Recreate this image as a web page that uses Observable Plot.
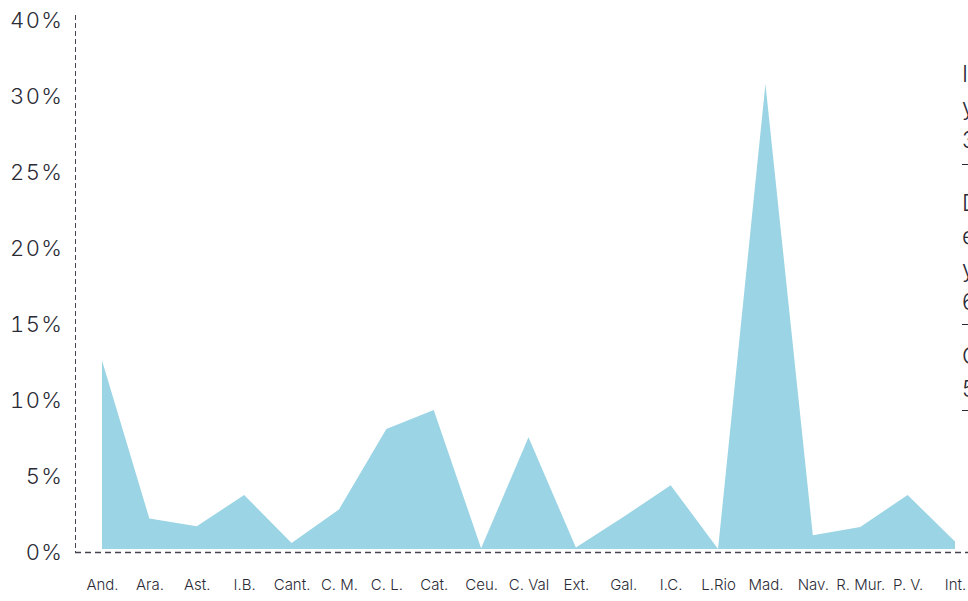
<!DOCTYPE html>
<html>
<head>
<meta charset="utf-8">
<script src="https://cdn.jsdelivr.net/npm/d3@7"></script>
<script src="https://cdn.jsdelivr.net/npm/@observablehq/plot@0.6"></script>
<style>
  html, body { margin: 0; padding: 0; background: #fff; }
  body { width: 968px; height: 601px; overflow: hidden; position: relative; font-family: Inter, "Noto Sans", sans-serif; }
  #chart { position: absolute; left: 0; top: 0; }
  #note { position: absolute; left: 962px; top: 58px; width: 260px; color: #2b2b36; font-size: 23px; line-height: 33px; font-weight: 300; }
  #note p { margin: 0; border-bottom: 1px solid #2b2b36; }
  #note p.b1 { padding-bottom: 7px; margin-bottom: 22px; }
  #note p.b2 { padding-bottom: 5px; margin-bottom: 15px; }
  #note p.b3 { padding-bottom: 4px; }
  .yaxis text { letter-spacing: 1.5px; }
</style>
</head>
<body>
<div id="chart"></div>
<div id="note">
  <p class="b1">Inversión en Madrid<br>y su comunidad:<br>30,6%</p>
  <p class="b2">Diferencia entre<br>el resto de regiones<br>y la media:<br>6,1%</p>
  <p class="b3">Cataluña y Valencia<br>5,4%</p>
</div>
<script>
const regions = ["And.", "Ara.", "Ast.", "I.B.", "Cant.", "C. M.", "C. L.", "Cat.", "Ceu.", "C. Val", "Ext.", "Gal.", "I.C.", "L.Rio", "Mad.", "Nav.", "R. Mur.", "P. V.", "Int."];
const shares = [12.4, 2.0, 1.5, 3.55, 0.4, 2.6, 7.9, 9.15, 0.05, 7.35, 0.1, 2.1, 4.2, 0.0, 30.6, 0.9, 1.45, 3.55, 0.5];
const yTickValues = [0, 5, 10, 15, 20, 25, 30, 35];
const yTickLabels = ["0%", "5%", "10%", "15%", "20%", "25%", "30%", "40%"];

const data = regions.map((r, i) => ({region: r, share: shares[i]}));

const chart = Plot.plot({
  width: 968,
  height: 601,
  marginLeft: 75,
  marginRight: 13,
  marginTop: 20,
  marginBottom: 49,
  style: {fontFamily: "Inter, 'Noto Sans', sans-serif", color: "#2b2b36", background: "transparent"},
  x: {type: "point", domain: regions, padding: 0, round: false, insetLeft: 27, label: null},
  y: {domain: [0, 35], label: null},
  marks: [
    Plot.areaY(data, {x: "region", y: "share", fill: "#9bd4e4", dy: -3}),
    Plot.frame({anchor: "left", stroke: "#44444f", strokeDasharray: "4,4", insetTop: -5}),
    Plot.ruleY([0], {stroke: "#44444f", strokeDasharray: "6,4", strokeWidth: 1.5, insetRight: -13}),
    Plot.axisY({ticks: yTickValues, tickFormat: (d) => yTickLabels[yTickValues.indexOf(d)], tickSize: 0, tickPadding: 12, fontSize: 22, fontWeight: 300, fill: "#2b2b36", label: null, className: "yaxis"}),
    Plot.axisX({tickSize: 0, tickPadding: 27, fontSize: 15, fontWeight: 300, fill: "#2b2b36", label: null})
  ]
});
document.getElementById("chart").appendChild(chart);
</script>
</body>
</html>
